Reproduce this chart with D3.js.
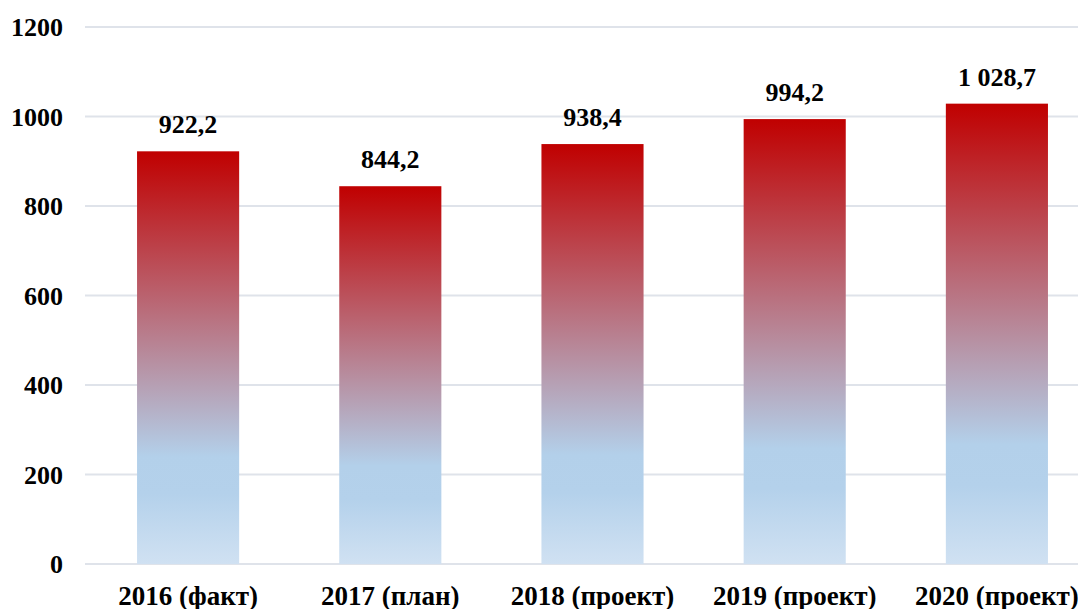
<!DOCTYPE html>
<html><head><meta charset="utf-8">
<script src="https://cdn.jsdelivr.net/npm/d3@7"></script>
<style>body{margin:0;background:#fff}svg{display:block}</style>
</head><body>
<svg id="c" width="1078" height="609"></svg>
<script>
const categories = ["2016 (факт)","2017 (план)","2018 (проект)","2019 (проект)","2020 (проект)"];
const values = [922.2, 844.2, 938.4, 994.2, 1028.7];
const valueLabels = ["922,2","844,2","938,4","994,2","1 028,7"];
const yTicks = [0,200,400,600,800,1000,1200];

const FONT = "'Liberation Serif','Times New Roman',serif";
const svg = d3.select("#c");
const x = d3.scaleBand().domain(categories).range([87, 1098]).paddingInner(0.495).paddingOuter(0.2475);
const y = d3.scaleLinear().domain([0,1200]).range([564, 27]);

const defs = svg.append("defs");
const g = defs.append("linearGradient").attr("id","grad").attr("x1",0).attr("y1",0).attr("x2",0).attr("y2",1);
[[0,"#c00000"],[0.74,"#b3d0ea"],[0.83,"#b4d1eb"],[1,"#d0e1f2"]].forEach(([o,c])=>g.append("stop").attr("offset",o).attr("stop-color",c));

svg.append("g").selectAll("line").data(yTicks).join("line")
  .attr("x1",85).attr("x2",1078).attr("y1",d=>y(d)).attr("y2",d=>y(d))
  .attr("stroke","#dfe3ea").attr("stroke-width",2);

svg.append("g").selectAll("rect").data(values).join("rect")
  .attr("x",(d,i)=>x(categories[i])).attr("width",x.bandwidth())
  .attr("y",d=>y(d)).attr("height",d=>y(0)-y(d)).attr("fill","url(#grad)");

function styleText(sel, size){ sel.style("font-family",FONT).style("font-weight","bold").style("font-size",size+"px").attr("fill","#000"); }

const yAxis = d3.axisLeft(y).tickValues(yTicks).tickSize(0).tickPadding(0).tickFormat(d3.format("d"));
const ya = svg.append("g").attr("transform","translate(63,0)").call(yAxis);
ya.select(".domain").remove();
ya.selectAll("text").call(styleText, 26).attr("dy","0.33em");

const xAxis = d3.axisBottom(x).tickSize(0).tickPadding(0);
const xa = svg.append("g").attr("transform","translate(0,605)").call(xAxis);
xa.select(".domain").remove();
xa.selectAll("text").call(styleText, 27).attr("dy","0");

svg.append("g").selectAll("text").data(values).join("text")
  .attr("x",(d,i)=>x(categories[i])+x.bandwidth()/2).attr("y",d=>y(d)-18)
  .attr("text-anchor","middle").call(styleText, 26).text((d,i)=>valueLabels[i]);
</script>
</body></html>
